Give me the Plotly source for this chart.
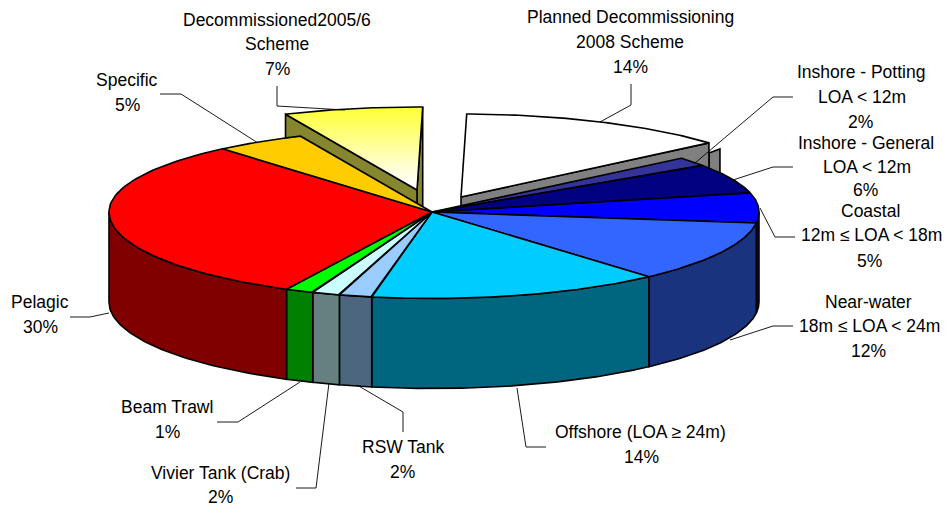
import numpy as np
import plotly.graph_objects as go

# ---- data (shares, printed labels as on the chart)
categories = ["Planned Decommissioning 2008 Scheme", "Inshore - Potting LOA < 12m", "Inshore - General LOA < 12m",
              "Coastal 12m ≤ LOA < 18m", "Near-water 18m ≤ LOA < 24m", "Offshore (LOA ≥ 24m)", "RSW Tank",
              "Vivier Tank (Crab)", "Beam Trawl", "Pelagic", "Specific", "Decommissioned2005/6 Scheme"]
shares = [13.42, 1.78, 5.78, 5.78, 11.42, 14.53, 1.64, 1.39, 1.42, 31.33, 4.56, 6.95]
exploded = ["Planned Decommissioning 2008 Scheme", "Decommissioned2005/6 Scheme"]

# ---- styles
top_colors = ["#FFFFFF", "#333399", "#000080", "#0000FF", "#3366FF", "#00CCFF", "#99CCFF", "#CCFFFF", "#00FF00",
              "#FF0000", "#FFCC00", "#FFFF33"]
side_colors = ["#808080", "#808080", "#000040", "#00007F", "#1A337F", "#006680", "#4D6680", "#668080", "#008000",
               "#800000", "#806600", "#86862F"]

# ---- geometry of the tilted pie (pixels of the axes)
CX, CY, A_RIGHT, A_LEFT, B_FAR, B_NEAR = 432, 212, 327, 323, 83, 86.5
DEPTH, DEPTH_EXPLODED, ROTATION = 90, 100, 1.0
OFFSETS = {exploded[0]: (29, -15), exploded[1]: (-15, -22)}
LW = 1.6


def rim(t, off=(0, 0)):
    t = np.radians(np.atleast_1d(t))
    c, s = np.cos(t), np.sin(t)
    y = CY - np.where(c > 0, B_FAR, B_NEAR) * c + off[1]
    x = CX + np.where(s > 0, A_RIGHT, A_LEFT) * s + off[0]
    return x, y


fig = go.Figure()


def poly(xs, ys, color, **kw):
    fig.add_trace(go.Scatter(x=list(xs) + [xs[0]], y=list(ys) + [ys[0]], mode="lines", fill="toself", fillcolor=color,
                             line=dict(color="#000000", width=LW), hoverinfo="skip", showlegend=False, **kw))


def top(t0, t1, off, color, **kw):
    ts = np.linspace(t0, t1, 80)
    x, y = rim(ts, off)
    poly(np.r_[CX + off[0], x], np.r_[CY + off[1], y], color, **kw)


def cut_face(t, off, color, d):
    x, y = rim(t, off)
    poly([CX + off[0], x[0], x[0], CX + off[0]], [CY + off[1], y[0], y[0] + d, CY + off[1] + d], color)


def wall(t0, t1, color):
    lo, hi = max(t0, 90), min(t1, 270)
    if hi <= lo:
        return
    ts = np.linspace(lo, hi, 60)
    x, y = rim(ts)
    poly(np.r_[x, x[::-1]], np.r_[y, y[::-1] + DEPTH], color)


edges = ROTATION + np.r_[0, np.cumsum(shares)] * 3.6

# exploded slices lie behind the main body
i_dec, i_pla = categories.index(exploded[1]), categories.index(exploded[0])
off = OFFSETS[exploded[1]]
cut_face(edges[i_dec + 1], off, side_colors[i_dec], DEPTH_EXPLODED)
cut_face(edges[i_dec], off, side_colors[i_dec], DEPTH_EXPLODED)
top(edges[i_dec], edges[i_dec + 1], off, top_colors[i_dec],
    fillgradient=dict(type="vertical", colorscale=[[0, "#FFFFFF"], [0.12, "#FFFFF6"], [1, "#FFFF33"]]))

off = OFFSETS[exploded[0]]
xe, ye = rim(edges[i_pla + 1], off)
poly([xe[0], xe[0] + 11, xe[0] + 11, xe[0]], [ye[0] + 10, ye[0] + 6, ye[0] + 30, ye[0] + 30], side_colors[i_pla])
cut_face(edges[i_pla + 1], off, side_colors[i_pla], DEPTH_EXPLODED)
top(edges[i_pla], edges[i_pla + 1], off, top_colors[i_pla])

# main body
for i in range(len(shares)):
    if categories[i] not in exploded:
        wall(edges[i], edges[i + 1], side_colors[i])
for i in range(len(shares)):
    if categories[i] not in exploded:
        top(edges[i], edges[i + 1], (0, 0), top_colors[i])

# ---- labels: one row per text line (text, centre x, centre y)
label_rows = [
    ("Decommissioned2005/6", 277, 20), ("Scheme", 277, 44), ("7%", 277, 69),
    ("Planned Decommissioning", 630, 17), ("2008 Scheme", 630, 42), ("14%", 630, 67),
    ("Inshore - Potting", 861, 72), ("LOA < 12m", 862, 97), ("2%", 860, 122),
    ("Inshore - General", 866, 143), ("LOA < 12m", 867, 167), ("6%", 865, 190),
    ("Coastal", 870, 211), ("12m ≤ LOA < 18m", 871, 235), ("5%", 869, 261),
    ("Near-water", 868, 302), ("18m ≤ LOA < 24m", 869, 326), ("12%", 868, 351),
    ("Offshore (LOA ≥ 24m)", 640, 432), ("14%", 641, 457),
    ("RSW Tank", 403, 447), ("2%", 402, 472),
    ("Vivier Tank (Crab)", 220, 473), ("2%", 220, 497),
    ("Beam Trawl", 167, 407), ("1%", 167, 432),
    ("Pelagic", 40, 302), ("30%", 40, 327),
    ("Specific", 127, 80), ("5%", 127, 105),
]
for txt, x, y in label_rows:
    fig.add_annotation(x=x, y=y, text=txt, showarrow=False, xanchor="center", yanchor="middle",
                       font=dict(family="Liberation Sans, Arial", size=17.5, color="#000000"))

# ---- leader lines
leaders = [
    [(277, 86), (277, 106), (345, 110)],
    [(160, 94), (181, 94), (258, 143)],
    [(631, 84), (631, 105), (600, 122)],
    [(793, 97), (773, 97), (695, 163)],
    [(793, 167), (773, 167), (733, 180)],
    [(760, 208), (775, 237), (795, 237)],
    [(730, 340), (773, 326), (793, 326)],
    [(517, 388), (526, 447), (546, 447)],
    [(357, 385), (403, 412), (403, 432)],
    [(329, 383), (316, 488), (296, 488)],
    [(300, 382), (238, 422), (217, 422)],
    [(109, 313), (90, 317), (70, 317)],
]
for pts in leaders:
    fig.add_trace(go.Scatter(x=[p[0] for p in pts], y=[p[1] for p in pts], mode="lines",
                             line=dict(color="#000000", width=0.9), hoverinfo="skip", showlegend=False))

fig.update_layout(width=946, height=510, margin=dict(l=0, r=0, t=0, b=0), paper_bgcolor="#FFFFFF",
                  plot_bgcolor="#FFFFFF", showlegend=False,
                  xaxis=dict(range=[0, 946], visible=False, fixedrange=True),
                  yaxis=dict(range=[510, 0], visible=False, fixedrange=True))
fig.write_html("out.html", config={"displayModeBar": False},
               post_script="document.body.style.margin='0';document.body.style.overflow='hidden';")
